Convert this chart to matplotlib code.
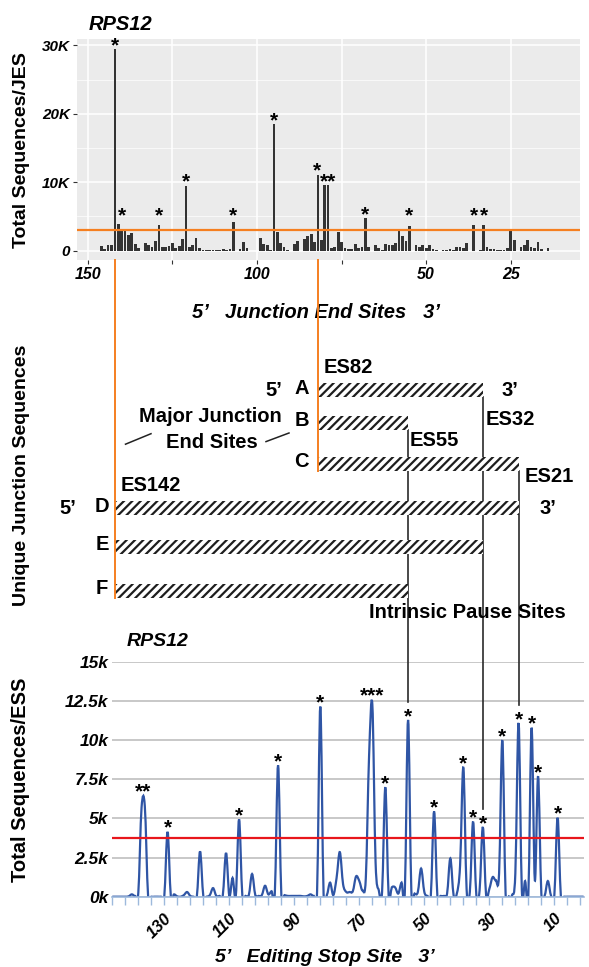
import matplotlib
matplotlib.use("Agg")
import matplotlib.pyplot as plt
import numpy as np
from matplotlib.path import Path
from matplotlib.patches import PathPatch, Rectangle

plt.rcParams["font.family"] = ["Liberation Sans", "DejaVu Sans"]
plt.rcParams["hatch.linewidth"] = 1.6

# --- top panel: total sequences per junction end site (JES), in thousands ---
jes_sites = list(range(146, 13, -1))
jes_counts = [
    0.75, 0.2, 0.8, 0.85, 29.4, 3.9, 3.0, 3.0, 2.3, 2.6,       # 146-137
    1.05, 0.35, 0.0, 1.15, 0.9, 0.5, 1.45, 3.75, 0.5, 0.6,      # 136-127
    0.7, 1.15, 0.35, 0.7, 1.65, 9.5, 0.5, 0.85, 1.9, 0.35,      # 126-117
    0.1, 0.1, 0.05, 0.1, 0.15, 0.1, 0.2, 0.1, 0.2, 4.2,         # 116-107
    0.0, 0.2, 1.3, 0.35, 0.0, 0.0, 0.0, 1.8, 1.05, 0.8,         # 106-97
    0.15, 18.5, 2.8, 1.15, 0.5, 0.1, 0.0, 1.0, 1.45, 0.0,       # 96-87
    1.75, 2.1, 2.5, 1.2, 11.1, 1.5, 9.6, 9.6, 0.4, 0.5,         # 86-77
    2.7, 1.2, 0.4, 0.2, 0.2, 1.0, 0.4, 0.6, 4.8, 0.5,           # 76-67
    0.0, 0.8, 0.4, 0.1, 1.05, 0.8, 0.85, 1.1, 2.9, 2.1,         # 66-57
    1.4, 3.6, 0.0, 0.8, 0.5, 0.8, 0.4, 0.8, 0.3, 0.1,           # 56-47
    0.0, 0.05, 0.1, 0.3, 0.1, 0.5, 0.6, 0.4, 1.1, 0.0,          # 46-37
    3.7, 0.0, 0.1, 3.7, 0.5, 0.25, 0.2, 0.15, 0.1, 0.1,         # 36-27
    0.4, 2.9, 1.5, 0.0, 0.6, 0.8, 1.5, 0.5, 0.4, 1.2,           # 26-17
    0.3, 0.0, 0.35,                                             # 16-14
]
jes_cutoff = 3.0
jes_star_sites = [142, 140, 129, 121, 107, 95, 82.3, 79.1, 68, 55, 36, 33]
jes_star_labels = ["*", "*", "*", "*", "*", "*", "*", "**", "*", "*", "*", "*"]

# --- bottom panel: total sequences per editing stop site (ESS), in thousands ---
ess_sites = list(range(146, 0, -1))
ess_counts = [
    0.0, 0.0, 0.0, 0.0, 0.0, 0.02, 0.15, 0.05, 0.25, 5.7,       # 146-137
    5.8, 0.1, 0.0, 0.0, 0.0, 0.0, 0.05, 4.15, 0.05, 0.15,       # 136-127
    0.02, 0.0, 0.1, 0.3, 0.05, 0.0, 0.0, 2.9, 0.05, 0.0,        # 126-117
    0.1, 0.55, 0.05, 0.05, 0.1, 2.8, 0.05, 1.2, 0.05, 4.95,     # 116-107
    0.1, 0.05, 0.1, 1.45, 0.1, 0.05, 0.1, 0.7, 0.15, 0.35,      # 106-97
    0.2, 8.4, 0.15, 0.1, 0.05, 0.05, 0.05, 0.05, 0.05, 0.02,    # 96-87
    0.05, 0.15, 0.05, 0.3, 12.15, 0.2, 0.1, 0.9, 0.1, 1.2,      # 86-77
    2.85, 0.8, 0.3, 0.3, 0.35, 1.3, 1.0, 0.4, 1.2, 9.0,         # 76-67
    12.3, 2.2, 0.4, 0.3, 7.0, 0.15, 0.6, 0.6, 0.2, 0.9,         # 66-57
    0.3, 11.3, 0.4, 0.2, 0.3, 1.8, 0.3, 0.05, 0.1, 5.45,        # 56-47
    0.1, 0.05, 0.05, 0.2, 2.45, 0.1, 0.2, 2.0, 8.25, 0.5,       # 46-37
    0.3, 4.8, 0.1, 0.4, 4.45, 0.1, 0.5, 1.25, 1.05, 1.5,        # 36-27
    10.0, 0.2, 0.02, 0.1, 1.5, 11.1, 0.4, 1.0, 0.1, 10.8,       # 26-17
    1.05, 7.7, 0.2, 0.05, 1.0, 0.05, 0.1, 5.05, 0.05, 0.0,      # 16-7
    0.0, 0.0, 0.0, 0.0, 0.0, 0.0,                               # 6-1
]
ess_cutoff = 3.75
ess_star_sites = [136.5, 129, 107, 95, 82, 66.2, 62, 55, 47, 38, 35, 32, 26, 21, 17, 15, 9]
ess_star_peaks = [6.45, 4.15, 4.95, 8.4, 12.15, 12.6, 7.0, 11.3, 5.45, 8.25, 4.8, 4.45,
                  10.0, 11.1, 10.8, 7.7, 5.05]
ess_star_labels = ["**", "*", "*", "*", "*", "***", "*", "*", "*", "*", "*", "*",
                   "*", "*", "*", "*", "*"]

# --- middle diagram: unique junction sequences ---
rows = ["A", "B", "C", "D", "E", "F"]
row_start_es = [82, 82, 82, 142, 142, 142]
row_end_es = [32, 55, 21, 21, 32, 55]
pause_sites = [55, 32, 21]
pause_from_row = ["B", "A", "C"]

ORANGE = "#F57F20"
BLUE = "#2F55A5"
LIGHT_BLUE = "#9DB9DC"
W, H = 589, 967

fig = plt.figure(figsize=(W / 100, H / 100), dpi=100)
ax_top = fig.add_axes([77 / W, 1 - 260 / H, 503 / W, 221 / H])
ax_bot = fig.add_axes([112.3 / W, 1 - 896.7 / H, 471.3 / W, 234.7 / H])
over = fig.add_axes([0, 0, 1, 1], zorder=5)
over.set_xlim(0, W)
over.set_ylim(H, 0)
over.axis("off")
over.patch.set_alpha(0)

tick_font = dict(fontweight="bold", fontstyle="italic")

# ---- top bar chart (ggplot look) ----
ax_top.set_facecolor("#EBEBEB")
ax_top.bar(jes_sites, jes_counts, width=0.8, color="#333333", zorder=2)
ax_top.axhline(jes_cutoff, color=ORANGE, lw=1.6, zorder=3)
ax_top.set_xlim(153.2, 4.55)
ax_top.set_ylim(-1.36, 30.92)
ax_top.set_yticks([0, 10, 20, 30])
ax_top.set_yticklabels(["0", "10K", "20K", "30K"], fontsize=11, **tick_font)
ax_top.set_yticks([5, 15, 25], minor=True)
ax_top.set_xticks([150, 125, 100, 75, 50, 25])
ax_top.set_xticklabels(["150", "", "100", "", "50", "25"], fontsize=11.5, **tick_font)
ax_top.grid(which="major", color="white", lw=1.1, zorder=0)
ax_top.grid(which="minor", axis="y", color="white", lw=0.5, zorder=0)
ax_top.set_axisbelow(True)
ax_top.tick_params(which="major", length=3, color="#333333", pad=2)
ax_top.tick_params(which="minor", length=0)
for s in ax_top.spines.values():
    s.set_visible(False)

lookup_jes = dict(zip(jes_sites, jes_counts))
for site, lab in zip(jes_star_sites, jes_star_labels):
    h = max(lookup_jes[int(np.floor(site))], lookup_jes[int(np.ceil(site))])
    ax_top.annotate(lab, (site, max(h, 4.6)), xytext=(0, -1.5), textcoords="offset points",
                    ha="center", va="baseline", fontsize=15, fontweight="bold", zorder=4)


# ---- bottom smoothed line chart (Excel look) ----
def smooth_path(xs, ys):
    pts = np.column_stack([xs, ys]).astype(float)
    n = len(pts)
    verts, codes = [pts[0]], [Path.MOVETO]
    for i in range(n - 1):
        p0, p1 = pts[max(i - 1, 0)], pts[i]
        p2, p3 = pts[i + 1], pts[min(i + 2, n - 1)]
        verts += [p1 + (p2 - p0) / 6, p2 - (p3 - p1) / 6, p2]
        codes += [Path.CURVE4] * 3
    return Path(verts, codes)


ax_bot.add_patch(PathPatch(smooth_path(ess_sites, ess_counts), fill=False,
                           edgecolor=BLUE, lw=1.6, zorder=3))
ax_bot.axhline(ess_cutoff, color="#E8161C", lw=1.6, zorder=4)
ax_bot.set_xlim(146, 1)
ax_bot.set_ylim(0, 15)
ax_bot.set_yticks(np.arange(0, 15.1, 2.5))
ax_bot.set_yticklabels(["0k", "2.5k", "5k", "7.5k", "10k", "12.5k", "15k"],
                       fontsize=12.5, **tick_font)
ess_ticks = list(range(146, 1, -4))
ax_bot.set_xticks(ess_ticks)
ax_bot.set_xticklabels([str(t) if t % 20 == 10 else "" for t in ess_ticks],
                       fontsize=12, rotation=45, ha="right", va="top",
                       rotation_mode="anchor", **tick_font)
ax_bot.grid(axis="y", color="#BFBFBF", lw=1.2, zorder=0)
ax_bot.set_axisbelow(True)
ax_bot.tick_params(axis="y", length=0, pad=3)
ax_bot.tick_params(axis="x", length=6, width=1, color=LIGHT_BLUE, pad=4)
for name, s in ax_bot.spines.items():
    s.set_visible(name == "bottom")
ax_bot.spines["bottom"].set_color(LIGHT_BLUE)
ax_bot.spines["bottom"].set_linewidth(1.2)
ax_bot.spines["bottom"].set_zorder(5)

for site, peak, lab in zip(ess_star_sites, ess_star_peaks, ess_star_labels):
    ax_bot.annotate(lab, (site, peak), xytext=(0, -1.5), textcoords="offset points",
                    ha="center", va="baseline", fontsize=15, fontweight="bold", zorder=4)


# ---- middle diagram, drawn on a figure-wide overlay in pixel units ----
def to_px(ax, x, y):
    return over.transData.inverted().transform(ax.transData.transform((x, y)))


row_y = {"A": 390, "B": 423, "C": 463.5, "D": 508, "E": 547, "F": 590.5}
bar_h = 14
for r, s0, s1 in zip(rows, row_start_es, row_end_es):
    x0 = to_px(ax_top, s0, 0)[0]
    x1 = to_px(ax_bot, s1, 0)[0]
    over.add_patch(Rectangle((x0, row_y[r] - bar_h / 2), x1 - x0, bar_h,
                             facecolor="white", edgecolor="#1E1E1E", hatch="////",
                             lw=0, zorder=3))

# orange connectors from the major junction end sites
y_axis_px = to_px(ax_top, 142, ax_top.get_ylim()[0])[1]
for es, last_row in [(142, "F"), (82, "C")]:
    x = to_px(ax_top, es, 0)[0]
    over.plot([x, x], [y_axis_px, row_y[last_row] + bar_h / 2], color=ORANGE, lw=1.4, zorder=4)

# black connectors to the intrinsic pause sites
peak_of = dict(zip(ess_star_sites, ess_star_peaks))
for es, r in zip(pause_sites, pause_from_row):
    x, y_end = to_px(ax_bot, es, peak_of[es] + 1.15)
    over.plot([x, x], [row_y[r] + bar_h / 2, y_end], color="#2A2A2A", lw=1.2, zorder=2)

lab = dict(fontsize=14.5, fontweight="bold", ha="center", va="center", zorder=6)
for r, x in zip(rows, [301.5, 301.5, 301.5, 102, 102, 102]):
    over.text(x, row_y[r] - 2, r, **lab)
over.text(274, 390, "5’", **lab)
over.text(509.5, 391, "3’", **lab)
over.text(67.5, 508, "5’", **lab)
over.text(547.5, 509, "3’", **lab)
over.text(348.5, 367.5, "ES82", **lab)
over.text(510, 419.5, "ES32", **lab)
over.text(434.5, 440.5, "ES55", **lab)
over.text(549.5, 476.5, "ES21", **lab)
over.text(150.5, 485.5, "ES142", **lab)
over.text(210.5, 417, "Major Junction", **lab)
over.text(211.5, 443, "End Sites", **lab)
over.plot([125.5, 151], [444.2, 433.7], color="#222222", lw=1.1)
over.plot([266, 289], [441.6, 433], color="#222222", lw=1.1)
over.text(467, 612, "Intrinsic Pause Sites", **lab)

# titles and axis labels
it = dict(fontweight="bold", fontstyle="italic", ha="center", va="center")
over.text(120.5, 24.5, "RPS12", fontsize=14.5, **it)
over.text(157.5, 642, "RPS12", fontsize=14, **it)
over.text(316.5, 313, "5’   Junction End Sites   3’", fontsize=14.5, **it)
over.text(325, 958, "5’   Editing Stop Site   3’", fontsize=14, **it)
yl = dict(fontweight="bold", ha="center", va="center", rotation=90)
over.text(22, 150, "Total Sequences/JES", fontsize=14, **yl)
over.text(22, 475, "Unique Junction Sequences", fontsize=14, **yl)
over.text(21, 780, "Total Sequences/ESS", fontsize=14.5, **yl)

fig.savefig("out.png", dpi=100)
